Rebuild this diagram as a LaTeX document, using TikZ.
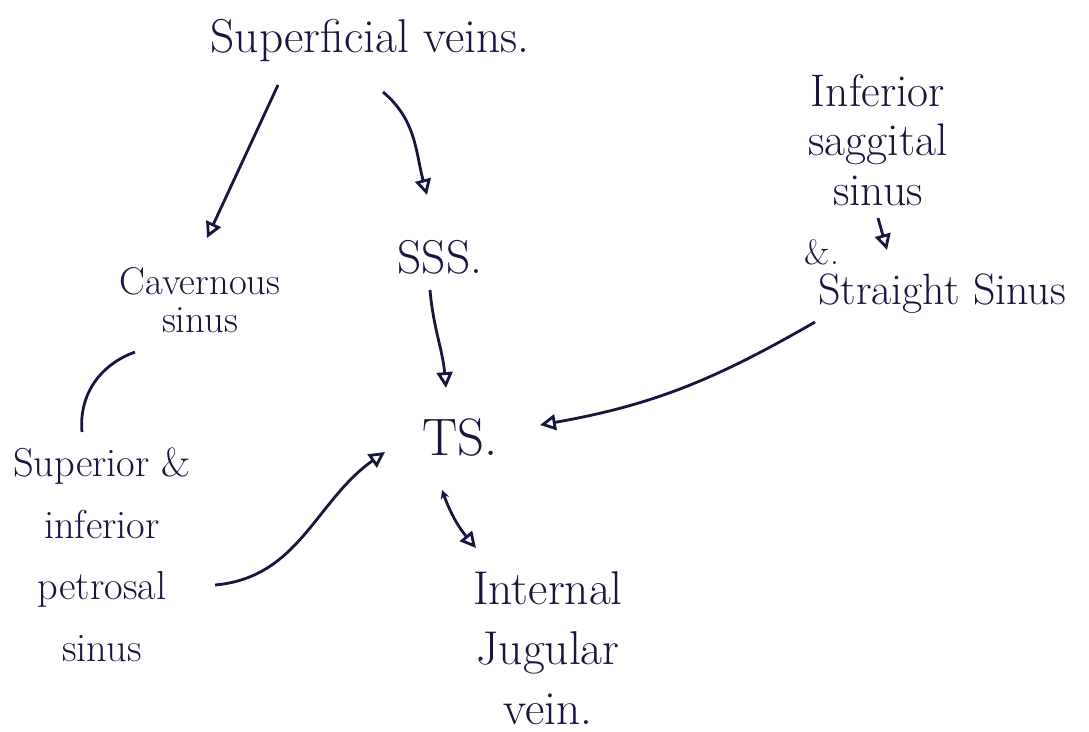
\documentclass[tikz,border=0pt]{standalone}
\usepackage{tikz}
\usetikzlibrary{arrows.meta, positioning}

\definecolor{ink}{RGB}{22,22,62}

\begin{document}
\begin{tikzpicture}[
    x=0.02cm, y=-0.02cm,
    txt/.style={
        text=ink, align=center, inner sep=1pt,
        font=\fontsize{24}{30}\selectfont
    },
    arrow/.style={
        -{Triangle[open, length=9pt, width=9pt]}, line width=1.6pt, draw=ink
    },
    biarrow/.style={
        {Stealth[length=5pt, width=5pt]}-{Triangle[open, length=9pt, width=9pt]}, line width=1.6pt, draw=ink
    },
    link/.style={
        line width=1.6pt, draw=ink
    }
]
    \useasboundingbox (0,0) rectangle (1089,731);

    % =========================================================================
    % NODES
    % =========================================================================
    \node [txt, font=\fontsize{27}{30}\selectfont] (superficial) at (370, 40) {Superficial veins.};
    \node [txt, font=\fontsize{22}{22}\selectfont] (cavernous) at (200, 300) {Cavernous\\sinus};
    \node [txt, font=\fontsize{27}{30}\selectfont] (sss) at (440, 257) {SSS.};
    \node [txt, font=\fontsize{26}{28}\selectfont] (inferior) at (878, 140) {Inferior\\saggital\\sinus};
    \node [txt, font=\fontsize{20}{24}\selectfont] (amp) at (822, 252) {\&.};
    \node [txt, font=\fontsize{25}{30}\selectfont] (straight) at (942, 294) {Straight Sinus};
    \node [txt, font=\fontsize{30}{30}\selectfont] (ts) at (460, 437) {TS.};
    \node [txt, font=\fontsize{23}{35}\selectfont] (petrosal) at (102, 555) {Superior \&\\inferior\\petrosal\\sinus};
    \node [txt, font=\fontsize{27}{34}\selectfont] (ijv) at (548, 648) {Internal\\Jugular\\vein.};

    % =========================================================================
    % CONNECTORS
    % =========================================================================
    % Superficial veins to cavernous sinus
    \draw [arrow] ([shift={(-92,45)}]superficial.center) -- ([shift={(7,-62)}]cavernous.center);

    % Superficial veins to SSS
    \draw [arrow] ([shift={(13,52)}]superficial.center) to[out=-40, in=105] ([shift={(-13,-62)}]sss.center);

    % SSS to TS
    \draw [arrow] ([shift={(-10,33)}]sss.center) to[out=-85, in=95] ([shift={(-14,-49)}]ts.center);

    % Inferior saggital sinus to straight sinus
    \draw [arrow] ([shift={(0,78)}]inferior.center) -- ([shift={(-55,-44)}]straight.center);

    % Straight sinus to TS
    \draw [arrow] ([shift={(-127,28)}]straight.center) to[out=-150, in=10] ([shift={(80,-12)}]ts.center);

    % Cavernous sinus to petrosal sinus
    \draw [link] ([shift={(-65,52)}]cavernous.center) to[out=200, in=95] ([shift={(-20,-123)}]petrosal.center);

    % Petrosal sinus to TS
    \draw [arrow] ([shift={(113,30)}]petrosal.center) to[out=5, in=215] ([shift={(-75,15)}]ts.center);

    % TS to internal jugular vein
    \draw [biarrow] ([shift={(-18,53)}]ts.center) to[out=-70, in=130] ([shift={(-72,-100)}]ijv.center);

\end{tikzpicture}
\end{document}
